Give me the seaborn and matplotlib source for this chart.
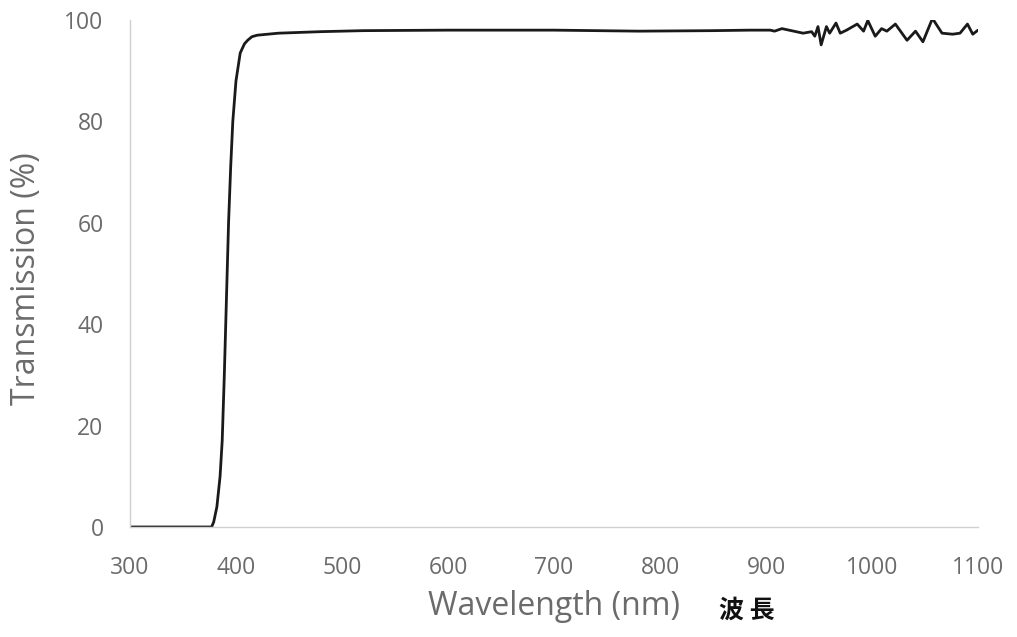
import matplotlib
matplotlib.use("Agg")
import matplotlib.pyplot as plt
import seaborn as sns
import pandas as pd

# -----------------------------
# Transmission spectrum
# -----------------------------
wavelength = [300, 377, 379, 382, 385, 387, 389, 391, 393, 395, 397, 400,
              404, 408, 411, 415, 420, 440, 480, 520, 600, 700, 780, 850,
              885, 904, 908, 915, 935, 943, 946, 949, 952, 957, 960, 966,
              970, 976, 986, 992, 996, 1003, 1009, 1014, 1022, 1033, 1041,
              1048, 1057, 1066, 1076, 1083, 1090, 1095, 1100]
transmission = [0, 0, 1, 4, 10, 17, 30, 45, 60, 71, 80, 88,
                93.5, 95.3, 96.0, 96.7, 97.0, 97.4, 97.7, 97.9, 98.0, 98.0, 97.8, 97.9,
                98.0, 98.0, 97.8, 98.3, 97.4, 97.7, 96.8, 98.7, 95.1, 98.7, 97.4, 99.4,
                97.4, 98.0, 99.2, 97.8, 99.9, 96.8, 98.3, 97.8, 99.2, 96.0, 97.8,
                95.7, 100.3, 97.4, 97.2, 97.4, 99.2, 97.2, 98.0]

x_ticks = [300, 400, 500, 600, 700, 800, 900, 1000, 1100]
y_ticks = [0, 20, 40, 60, 80, 100]

df = pd.DataFrame({"wavelength": wavelength, "transmission": transmission})

sns.set_style("white")
plt.rcParams["font.family"] = ["Open Sans", "DejaVu Sans"]

fig = plt.figure(figsize=(10.17, 6.37), dpi=100)
ax = fig.add_axes([0.1278, 0.1727, 0.8339, 0.7959])

sns.lineplot(data=df, x="wavelength", y="transmission", ax=ax,
             color="#1a1a1a", linewidth=2.0)

ax.set_xlim(300, 1100)
ax.set_ylim(0, 100)
ax.set_xticks(x_ticks)
ax.set_yticks(y_ticks)
ax.tick_params(length=0, labelsize=16.5, labelcolor="#6b6b6b")
ax.tick_params(axis="x", pad=21)
ax.tick_params(axis="y", pad=19)

for side in ["top", "right"]:
    ax.spines[side].set_visible(False)
for side in ["left", "bottom"]:
    ax.spines[side].set_color("#d0d0d0")
    ax.spines[side].set_linewidth(1.0)

ax.set_ylabel("Transmission (%)", fontsize=23, color="#6b6b6b")
ax.set_xlabel("Wavelength (nm)", fontsize=23, color="#6b6b6b")
ax.yaxis.set_label_coords(-0.102, 0.49)
ax.xaxis.set_label_coords(0.5, -0.125)

# Japanese annotation next to the x label
fig.text(0.707, 0.041, "波 長", fontsize=18, fontweight="bold", color="#111111",
         va="center", family=["Noto Sans CJK JP", "DejaVu Sans"])

plt.savefig("out.png", dpi=100)
